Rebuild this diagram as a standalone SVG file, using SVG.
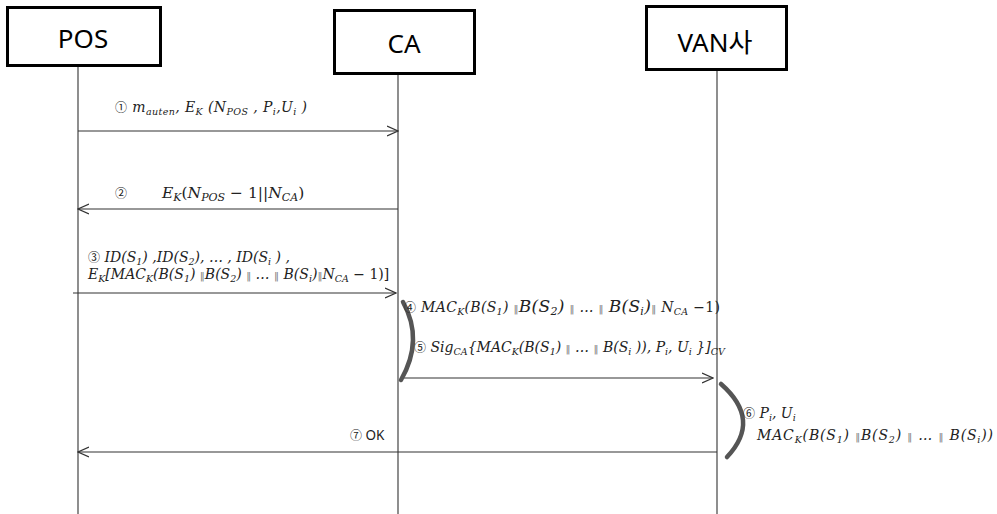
<svg xmlns="http://www.w3.org/2000/svg" width="997" height="514" viewBox="0 0 997 514">
  <style>
    .box { fill: #fff; stroke: #000; stroke-width: 3; }
    .title { font-family: "Noto Sans", "Noto Sans CJK KR", sans-serif; font-size: 26px; fill: #000; text-anchor: middle; }
    .life { stroke: #444; stroke-width: 1.2; fill: none; }
    .msg { stroke: #333; stroke-width: 1.2; fill: none; marker-end: url(#arr); }
    .brace { stroke: #555; stroke-width: 4.5; fill: none; stroke-linecap: round; }
    .lbl { font-family: "DejaVu Serif", "Liberation Serif", serif; font-style: italic; font-size: 14px; fill: #222; }
    .big { font-size: 17px; }
    .n { font-family: "Noto Sans CJK KR", "Noto Sans", sans-serif; font-style: normal; font-size: 12px; }
    .s { font-size: 9.5px; }
    .sb { font-size: 11px; }
    .up { font-style: normal; }
    .sep { font-style: normal; font-size: 10px; fill: #777; }
    .ok { font-family: "Noto Sans", sans-serif; font-size: 13.5px; fill: #222; }
  </style>
  <defs>
    <marker id="arr" viewBox="0 0 12 12" refX="11" refY="6" markerWidth="12" markerHeight="12" markerUnits="userSpaceOnUse" orient="auto">
      <path d="M0,1 L11,6 L0,11" fill="none" stroke="#333" stroke-width="1.3"/>
    </marker>
  </defs>

  <!-- participants -->
  <g id="pos">
    <rect class="box" x="7.5" y="7.5" width="153" height="58"/>
    <text class="title" x="83" y="48">POS</text>
    <line class="life" x1="78" y1="67" x2="78" y2="514"/>
  </g>
  <g id="ca">
    <rect class="box" x="334.5" y="10.5" width="140" height="63"/>
    <text class="title" x="404" y="53">CA</text>
    <line class="life" x1="398" y1="75" x2="398" y2="514"/>
  </g>
  <g id="van">
    <rect class="box" x="646.5" y="6.5" width="140" height="63"/>
    <text class="title" x="715" y="52">VAN사</text>
    <line class="life" x1="717" y1="71" x2="717" y2="514"/>
  </g>

  <!-- messages -->
  <g id="connectors">
    <line class="msg" x1="78" y1="131" x2="398" y2="131"/>
    <line class="msg" x1="398" y1="209" x2="78" y2="209"/>
    <line class="msg" x1="73" y1="293" x2="396" y2="293"/>
    <line class="msg" x1="400" y1="378" x2="713" y2="378"/>
    <line class="msg" x1="717" y1="452" x2="78" y2="452"/>
    <path class="brace" d="M403,302 Q424,340 401,380"/>
    <path class="brace" d="M721,384 Q762,420 727,457"/>
  </g>

  <!-- labels -->
  <g id="labels" xml:space="preserve">
    <text class="lbl" x="115" y="112" textLength="192" lengthAdjust="spacing"><tspan class="n">①</tspan> m<tspan class="s" dy="3">auten</tspan><tspan dy="-3">,  E</tspan><tspan class="s" dy="3">K</tspan><tspan dy="-3"> (N</tspan><tspan class="s" dy="3">POS</tspan><tspan dy="-3"> , P</tspan><tspan class="s" dy="3">i</tspan><tspan dy="-3">,U</tspan><tspan class="s" dy="3">i</tspan><tspan dy="-3"> )</tspan></text>

    <text class="lbl" x="115" y="198"><tspan class="n">②</tspan></text>
    <text class="lbl" x="162" y="198" style="font-size:15.5px">E<tspan class="sb" dy="3">K</tspan><tspan class="up" dy="-3">(</tspan>N<tspan class="sb" dy="3">POS</tspan><tspan class="up" dy="-3"> − 1||</tspan>N<tspan class="sb" dy="3">CA</tspan><tspan class="up" dy="-3">)</tspan></text>

    <text class="lbl" x="88" y="262"><tspan class="n">③</tspan> ID(S<tspan class="s" dy="3">1</tspan><tspan dy="-3">) ,ID(S</tspan><tspan class="s" dy="3">2</tspan><tspan dy="-3">), … , ID(S</tspan><tspan class="s" dy="3">i</tspan><tspan dy="-3"> ) ,</tspan></text>
    <text class="lbl" x="88" y="279">E<tspan class="s" dy="3">K</tspan><tspan dy="-3">[MAC</tspan><tspan class="s" dy="3">K</tspan><tspan dy="-3">(B(S</tspan><tspan class="s" dy="3">1</tspan><tspan dy="-3">)  </tspan><tspan class="sep">‖</tspan>B(S<tspan class="s" dy="3">2</tspan><tspan dy="-3">)  </tspan><tspan class="sep">‖</tspan>   …  <tspan class="sep">‖</tspan> B(S<tspan class="s" dy="3">i</tspan><tspan dy="-3">)</tspan><tspan class="sep">‖</tspan>N<tspan class="s" dy="3">CA</tspan><tspan class="up" dy="-3"> − 1)]</tspan></text>

    <text class="lbl" x="404" y="312" textLength="316" lengthAdjust="spacing"><tspan class="n">④</tspan> MAC<tspan class="s" dy="3">K</tspan><tspan dy="-3">(B(S</tspan><tspan class="s" dy="3">1</tspan><tspan dy="-3">)  </tspan><tspan class="sep">‖</tspan><tspan class="big">B(S</tspan><tspan class="sb" dy="3">2</tspan><tspan class="big" dy="-3">)</tspan>  <tspan class="sep">‖</tspan>   …  <tspan class="sep">‖</tspan>  <tspan class="big">B(S</tspan><tspan class="sb" dy="3">i</tspan><tspan class="big" dy="-3">)</tspan><tspan class="sep">‖</tspan>  N<tspan class="s" dy="3">CA</tspan><tspan class="up" dy="-3"> −1)</tspan></text>

    <text class="lbl" x="414" y="352"><tspan class="n">⑤</tspan> Sig<tspan class="s" dy="3">CA</tspan><tspan dy="-3">{MAC</tspan><tspan class="s" dy="3">K</tspan><tspan dy="-3">(B(S</tspan><tspan class="s" dy="3">1</tspan><tspan dy="-3">)  </tspan><tspan class="sep">‖</tspan> …  <tspan class="sep">‖</tspan>  B(S<tspan class="s" dy="3">i</tspan><tspan dy="-3"> )), P</tspan><tspan class="s" dy="3">i</tspan><tspan dy="-3">,  U</tspan><tspan class="s" dy="3">i</tspan><tspan dy="-3"> }]</tspan><tspan class="s" dy="3">CV</tspan></text>

    <text class="lbl" x="743" y="418"><tspan class="n">⑥</tspan> P<tspan class="s" dy="3">i</tspan><tspan dy="-3">,  U</tspan><tspan class="s" dy="3">i</tspan></text>
    <text class="lbl" x="757" y="440" textLength="236" lengthAdjust="spacing">MAC<tspan class="s" dy="3">K</tspan><tspan dy="-3">(B(S</tspan><tspan class="s" dy="3">1</tspan><tspan dy="-3">)  </tspan><tspan class="sep">‖</tspan>B(S<tspan class="s" dy="3">2</tspan><tspan dy="-3">)  </tspan><tspan class="sep">‖</tspan>   …  <tspan class="sep">‖</tspan>  B(S<tspan class="s" dy="3">i</tspan><tspan dy="-3">))</tspan></text>

    <text class="ok" x="350" y="440"><tspan class="n" style="font-size:12px">⑦</tspan> OK</text>
  </g>
</svg>
